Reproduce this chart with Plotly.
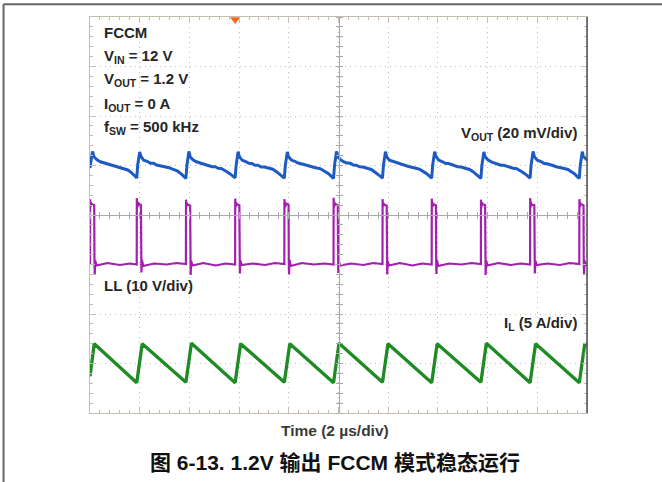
import plotly.graph_objects as go

# ---------------------------------------------------------------------------
# Scope capture: 1.2 V output, FCCM steady state
# Horizontal: 2 us/div, 10 divisions (0 .. 20 us)
# ---------------------------------------------------------------------------

# VOUT (AC coupled), 20 mV/div, reference 1 div above screen centre
VOUT_T_US = [
    0.00, 0.10, 0.16, 0.28, 0.42, 0.55, 0.68, 0.80, 0.92, 1.05, 1.18, 1.30, 1.42, 1.52, 1.62, 1.74, 1.84,
    1.88, 1.92, 2.00, 2.05, 2.16, 2.30, 2.43, 2.56, 2.68, 2.80, 2.93, 3.06, 3.18, 3.30, 3.40, 3.53, 3.66, 3.78,
    3.86, 3.90, 3.98, 4.03, 4.14, 4.28, 4.41, 4.54, 4.66, 4.78, 4.91, 5.04, 5.16, 5.28, 5.38, 5.51, 5.64, 5.76,
    5.84, 5.88, 5.96, 6.01, 6.12, 6.26, 6.39, 6.52, 6.64, 6.76, 6.89, 7.02, 7.14, 7.26, 7.36, 7.49, 7.62, 7.74,
    7.82, 7.86, 7.94, 7.99, 8.10, 8.24, 8.37, 8.50, 8.62, 8.74, 8.87, 9.00, 9.12, 9.24, 9.34, 9.47, 9.60, 9.72,
    9.80, 9.84, 9.92, 9.97, 10.08, 10.22, 10.35, 10.48, 10.60, 10.72, 10.85, 10.98, 11.10, 11.22, 11.32, 11.45, 11.58, 11.69,
    11.77, 11.81, 11.89, 11.94, 12.05, 12.19, 12.32, 12.45, 12.57, 12.69, 12.82, 12.95, 13.07, 13.19, 13.29, 13.42, 13.55, 13.67,
    13.75, 13.79, 13.87, 13.92, 14.03, 14.17, 14.30, 14.43, 14.55, 14.67, 14.80, 14.93, 15.05, 15.17, 15.27, 15.40, 15.53, 15.65,
    15.73, 15.77, 15.85, 15.90, 16.01, 16.15, 16.28, 16.41, 16.53, 16.65, 16.78, 16.91, 17.03, 17.15, 17.25, 17.38, 17.51, 17.63,
    17.71, 17.75, 17.83, 17.88, 17.99, 18.13, 18.26, 18.39, 18.51, 18.63, 18.76, 18.89, 19.01, 19.13, 19.23, 19.36, 19.49, 19.61,
    19.69, 19.73, 19.81, 19.86, 19.94, 20.00,
]
VOUT_MV = [
    -1.0, 5.7, 3.5, 2.3, 1.5, 1.1, 0.6, 0.3, 0.0, -0.4, -0.8, -1.0, -1.4, -1.8, -2.5, -3.5, -4.5,
    -5.1, 0.2, 5.5, 3.7, 2.1, 1.7, 0.9, 0.9, 0.2, 0.0, -0.4, -0.7, -0.9, -1.4, -1.7, -2.3, -3.3, -4.5,
    -5.2, 0.1, 5.7, 3.5, 2.3, 1.5, 1.1, 0.7, 0.3, -0.1, -0.5, -0.5, -1.1, -1.2, -1.7, -2.5, -3.4, -4.3,
    -5.0, 0.0, 5.6, 3.6, 2.2, 1.6, 0.9, 0.8, 0.1, 0.1, -0.6, -0.6, -1.0, -1.4, -1.5, -2.4, -3.5, -4.4,
    -5.1, 0.1, 5.5, 3.5, 2.2, 1.7, 1.0, 0.7, 0.3, 0.0, -0.4, -0.7, -1.0, -1.2, -1.7, -2.4, -3.3, -4.5,
    -5.2, 0.0, 5.7, 3.6, 2.3, 1.5, 1.0, 0.9, 0.2, 0.1, -0.5, -0.6, -1.1, -1.3, -1.6, -2.5, -3.4, -4.4,
    -5.1, 0.2, 5.6, 3.5, 2.1, 1.6, 1.1, 0.7, 0.2, 0.0, -0.4, -0.7, -0.9, -1.3, -1.7, -2.4, -3.3, -4.4,
    -5.1, 0.1, 5.6, 3.7, 2.2, 1.6, 0.9, 0.8, 0.3, -0.1, -0.5, -0.6, -1.0, -1.4, -1.6, -2.4, -3.5, -4.5,
    -5.2, 0.0, 5.5, 3.5, 2.3, 1.5, 1.0, 0.8, 0.1, 0.1, -0.4, -0.6, -1.1, -1.2, -1.7, -2.5, -3.4, -4.4,
    -5.1, 0.1, 5.7, 3.6, 2.2, 1.7, 0.9, 0.7, 0.2, 0.0, -0.5, -0.7, -0.9, -1.3, -1.6, -2.3, -3.3, -4.5,
    -5.2, 0.1, 5.6, 3.6, 2.6, 2.2,
]

# LL switch node, 10 V/div, ground 1 div below screen centre
LL_T_US = [
    0.000, 0.004, 0.020, 0.035, 0.050, 0.080, 0.170, 0.180, 0.190, 0.210, 0.260, 0.700, 1.200, 1.600,
    1.880, 1.884, 1.900, 1.915, 1.930, 1.960, 2.050, 2.060, 2.070, 2.090, 2.140, 2.580, 3.080, 3.480,
    3.860, 3.864, 3.880, 3.895, 3.910, 3.940, 4.030, 4.040, 4.050, 4.070, 4.120, 4.560, 5.060, 5.460,
    5.840, 5.844, 5.860, 5.875, 5.890, 5.920, 6.010, 6.020, 6.030, 6.050, 6.100, 6.540, 7.040, 7.440,
    7.820, 7.824, 7.840, 7.855, 7.870, 7.900, 7.990, 8.000, 8.010, 8.030, 8.080, 8.520, 9.020, 9.420,
    9.800, 9.804, 9.820, 9.835, 9.850, 9.880, 9.970, 9.980, 9.990, 10.010, 10.060, 10.500, 11.000, 11.400,
    11.770, 11.774, 11.790, 11.805, 11.820, 11.850, 11.940, 11.950, 11.960, 11.980, 12.030, 12.470, 12.970, 13.370,
    13.750, 13.754, 13.770, 13.785, 13.800, 13.830, 13.920, 13.930, 13.940, 13.960, 14.010, 14.450, 14.950, 15.350,
    15.730, 15.734, 15.750, 15.765, 15.780, 15.810, 15.900, 15.910, 15.920, 15.940, 15.990, 16.430, 16.930, 17.330,
    17.710, 17.714, 17.730, 17.745, 17.760, 17.790, 17.880, 17.890, 17.900, 17.920, 17.970, 18.410, 18.910, 19.310,
    19.690, 19.694, 19.710, 19.725, 19.740, 19.770, 19.860, 19.870, 19.880, 19.900, 19.950, 20.000,
]
LL_V = [
    0.1, 13.2, 11.6, 12.6, 11.9, 12.2, 12.0, 0.5, -2.0, 0.8, -0.2, 0.3, -0.1, 0.2,
    0.0, 13.4, 11.5, 12.7, 11.8, 12.3, 12.0, 0.6, -1.6, 0.9, -0.3, 0.2, 0.0, 0.3,
    0.1, 13.1, 11.7, 12.5, 12.0, 12.1, 11.9, 0.4, -2.1, 0.7, -0.2, 0.3, -0.2, 0.2,
    0.0, 13.3, 11.6, 12.6, 11.9, 12.2, 12.0, 0.5, -1.8, 0.8, -0.1, 0.2, -0.1, 0.3,
    0.1, 13.2, 11.5, 12.6, 11.8, 12.3, 12.1, 0.6, -2.0, 0.9, -0.3, 0.3, 0.0, 0.2,
    0.0, 13.5, 11.6, 12.7, 11.9, 12.2, 12.0, 0.5, -1.7, 0.8, -0.2, 0.2, -0.1, 0.3,
    0.1, 13.2, 11.7, 12.5, 11.9, 12.1, 11.9, 0.4, -2.0, 0.7, -0.2, 0.3, -0.2, 0.2,
    0.0, 13.3, 11.6, 12.6, 11.8, 12.2, 12.0, 0.6, -1.9, 0.9, -0.3, 0.2, 0.0, 0.3,
    0.1, 13.1, 11.5, 12.6, 12.0, 12.2, 12.0, 0.5, -2.1, 0.8, -0.2, 0.3, -0.1, 0.2,
    0.0, 13.4, 11.6, 12.7, 11.9, 12.1, 12.0, 0.5, -1.8, 0.8, -0.1, 0.2, -0.1, 0.3,
    0.1, 13.2, 11.6, 12.6, 11.9, 12.2, 12.0, 0.5, -2.0, 0.8, -0.2, 0.1,
]

# Inductor current, 5 A/div, zero 3 div below screen centre
IL_T_US = [0.00, 0.17, 1.88, 2.10, 3.86, 4.08, 5.84, 6.06, 7.82, 8.04, 9.80, 10.02,
           11.77, 11.99, 13.75, 13.97, 15.73, 15.95, 17.71, 17.93, 19.69, 19.91, 20.00]
IL_A = [-1.3, 2.0, -1.95, 2.0, -1.9, 2.05, -1.95, 2.0, -1.9, 2.0, -1.95, 2.05,
        -1.9, 2.0, -1.95, 2.0, -1.9, 2.05, -1.95, 2.0, -1.95, 2.0, 1.8]

TRIGGER_T_US = 5.84

# colours
C_VOUT = "#1d5bc2"
C_LL = "#a31fae"
C_IL = "#1e8b24"
C_BORDER = "#c5bfb1"
C_CROSS = "#a9a9a9"
C_GRID = "#bdbdbd"

fig = go.Figure()

fig.add_trace(go.Scatter(x=VOUT_T_US, y=VOUT_MV, mode="lines",
                         line=dict(color=C_VOUT, width=3), xaxis="x", yaxis="y",
                         hoverinfo="skip"))
fig.add_trace(go.Scatter(x=LL_T_US, y=LL_V, mode="lines",
                         line=dict(color=C_LL, width=2.2), xaxis="x2", yaxis="y2",
                         hoverinfo="skip"))
fig.add_trace(go.Scatter(x=IL_T_US, y=IL_A, mode="lines",
                         line=dict(color=C_IL, width=3.3), xaxis="x3", yaxis="y3",
                         hoverinfo="skip"))

# channel reference markers on the left edge
fig.add_trace(go.Scatter(x=[-0.15], y=[0], mode="markers", cliponaxis=False,
                         marker=dict(symbol="line-ew", size=7, line=dict(color=C_VOUT, width=2)),
                         xaxis="x", yaxis="y", hoverinfo="skip"))
fig.add_trace(go.Scatter(x=[-0.15], y=[0], mode="markers", cliponaxis=False,
                         marker=dict(symbol="square-open", size=7, color=C_LL, line=dict(width=2)),
                         xaxis="x2", yaxis="y2", hoverinfo="skip"))
fig.add_trace(go.Scatter(x=[-0.15], y=[0], mode="markers", cliponaxis=False,
                         marker=dict(symbol="line-ew", size=7, line=dict(color=C_IL, width=2)),
                         xaxis="x3", yaxis="y3", hoverinfo="skip"))
# trigger position marker on the top edge
fig.add_trace(go.Scatter(x=[TRIGGER_T_US], y=[59], mode="markers", cliponaxis=False,
                         marker=dict(symbol="triangle-down", size=9, color="#f26a22"),
                         xaxis="x", yaxis="y", hoverinfo="skip"))

frame_axis = dict(showline=True, linecolor=C_BORDER, linewidth=1, mirror="ticks",
                  ticks="inside", ticklen=5, tickcolor=C_BORDER, showticklabels=False,
                  showgrid=True, gridcolor=C_GRID, griddash="1px,4px", gridwidth=1,
                  zeroline=False, fixedrange=True)
cross_axis = dict(showline=True, linecolor=C_CROSS, linewidth=1, ticks="outside",
                  ticklen=3, tickcolor=C_CROSS, showticklabels=False, showgrid=False,
                  zeroline=False, fixedrange=True, anchor="free", position=0.5)

fig.update_layout(
    width=662, height=482,
    margin=dict(l=90, r=75, t=17, b=69),
    paper_bgcolor="white", plot_bgcolor="white",
    showlegend=False,
    xaxis=dict(range=[0, 20], dtick=2, tick0=0,
               minor=dict(dtick=0.4, tick0=0, ticks="inside", ticklen=3, tickcolor=C_BORDER, showgrid=False),
               **frame_axis),
    yaxis=dict(range=[-100, 60], dtick=20, tick0=0,
               minor=dict(dtick=4, tick0=0, ticks="inside", ticklen=3, tickcolor=C_BORDER, showgrid=False),
               **frame_axis),
    # centre graticule: channel axes placed on the screen centre lines
    xaxis2=dict(range=[0, 20], dtick=0.4, tick0=0, overlaying="x", side="bottom", **cross_axis),
    xaxis3=dict(range=[0, 20], dtick=0.4, tick0=0, overlaying="x", side="top", **cross_axis),
    yaxis2=dict(range=[-30, 50], dtick=2, tick0=0, overlaying="y", side="right", **cross_axis),
    yaxis3=dict(range=[-5, 35], dtick=1, tick0=0, overlaying="y", side="left", **cross_axis),
)

# dark right edge of the screen and the outer figure frame
fig.add_shape(type="line", xref="paper", yref="paper", x0=1, x1=1, y0=0, y1=1,
              line=dict(color="#505050", width=1.5))
fig.add_shape(type="line", xref="paper", yref="paper", x0=-0.174, x1=-0.174, y0=-0.2, y1=1.032,
              line=dict(color="#666666", width=2))
fig.add_shape(type="line", xref="paper", yref="paper", x0=-0.174, x1=1.2, y0=1.032, y1=1.032,
              line=dict(color="#666666", width=2))

scope_font = dict(family="Liberation Sans, Arial, sans-serif", size=15, color="#262626")


def label(text, x, y, xanchor="left", font=scope_font):
    fig.add_annotation(text=text, x=x, y=y, xref="paper", yref="paper",
                       xanchor=xanchor, yanchor="middle", showarrow=False, font=font)


label("<b>FCCM</b>", 0.024, 0.960)
label("<b>V<sub>IN</sub> = 12 V</b>", 0.024, 0.899)
label("<b>V<sub>OUT</sub> = 1.2 V</b>", 0.024, 0.841)
label("<b>I<sub>OUT</sub> = 0 A</b>", 0.024, 0.780)
label("<b>f<sub>SW</sub> = 500 kHz</b>", 0.024, 0.720)
label("<b>V<sub>OUT</sub> (20 mV/div)</b>", 0.984, 0.707, xanchor="right")
label("<b>LL (10 V/div)</b>", 0.024, 0.323)
label("<b>I<sub>L</sub> (5 A/div)</b>", 0.984, 0.227, xanchor="right")
label("<b>Time (2 µs/div)</b>", 0.493, -0.043, xanchor="center",
      font=dict(family="Liberation Sans, Arial, sans-serif", size=15.5, color="#3a3a3a"))
label("<b>图 6-13. 1.2V 输出 FCCM 模式稳态运行</b>", 0.4935, -0.126, xanchor="center",
      font=dict(family="Liberation Sans, Arial, Noto Sans CJK SC, sans-serif", size=21, color="#111111"))

fig.write_html("out.html")
